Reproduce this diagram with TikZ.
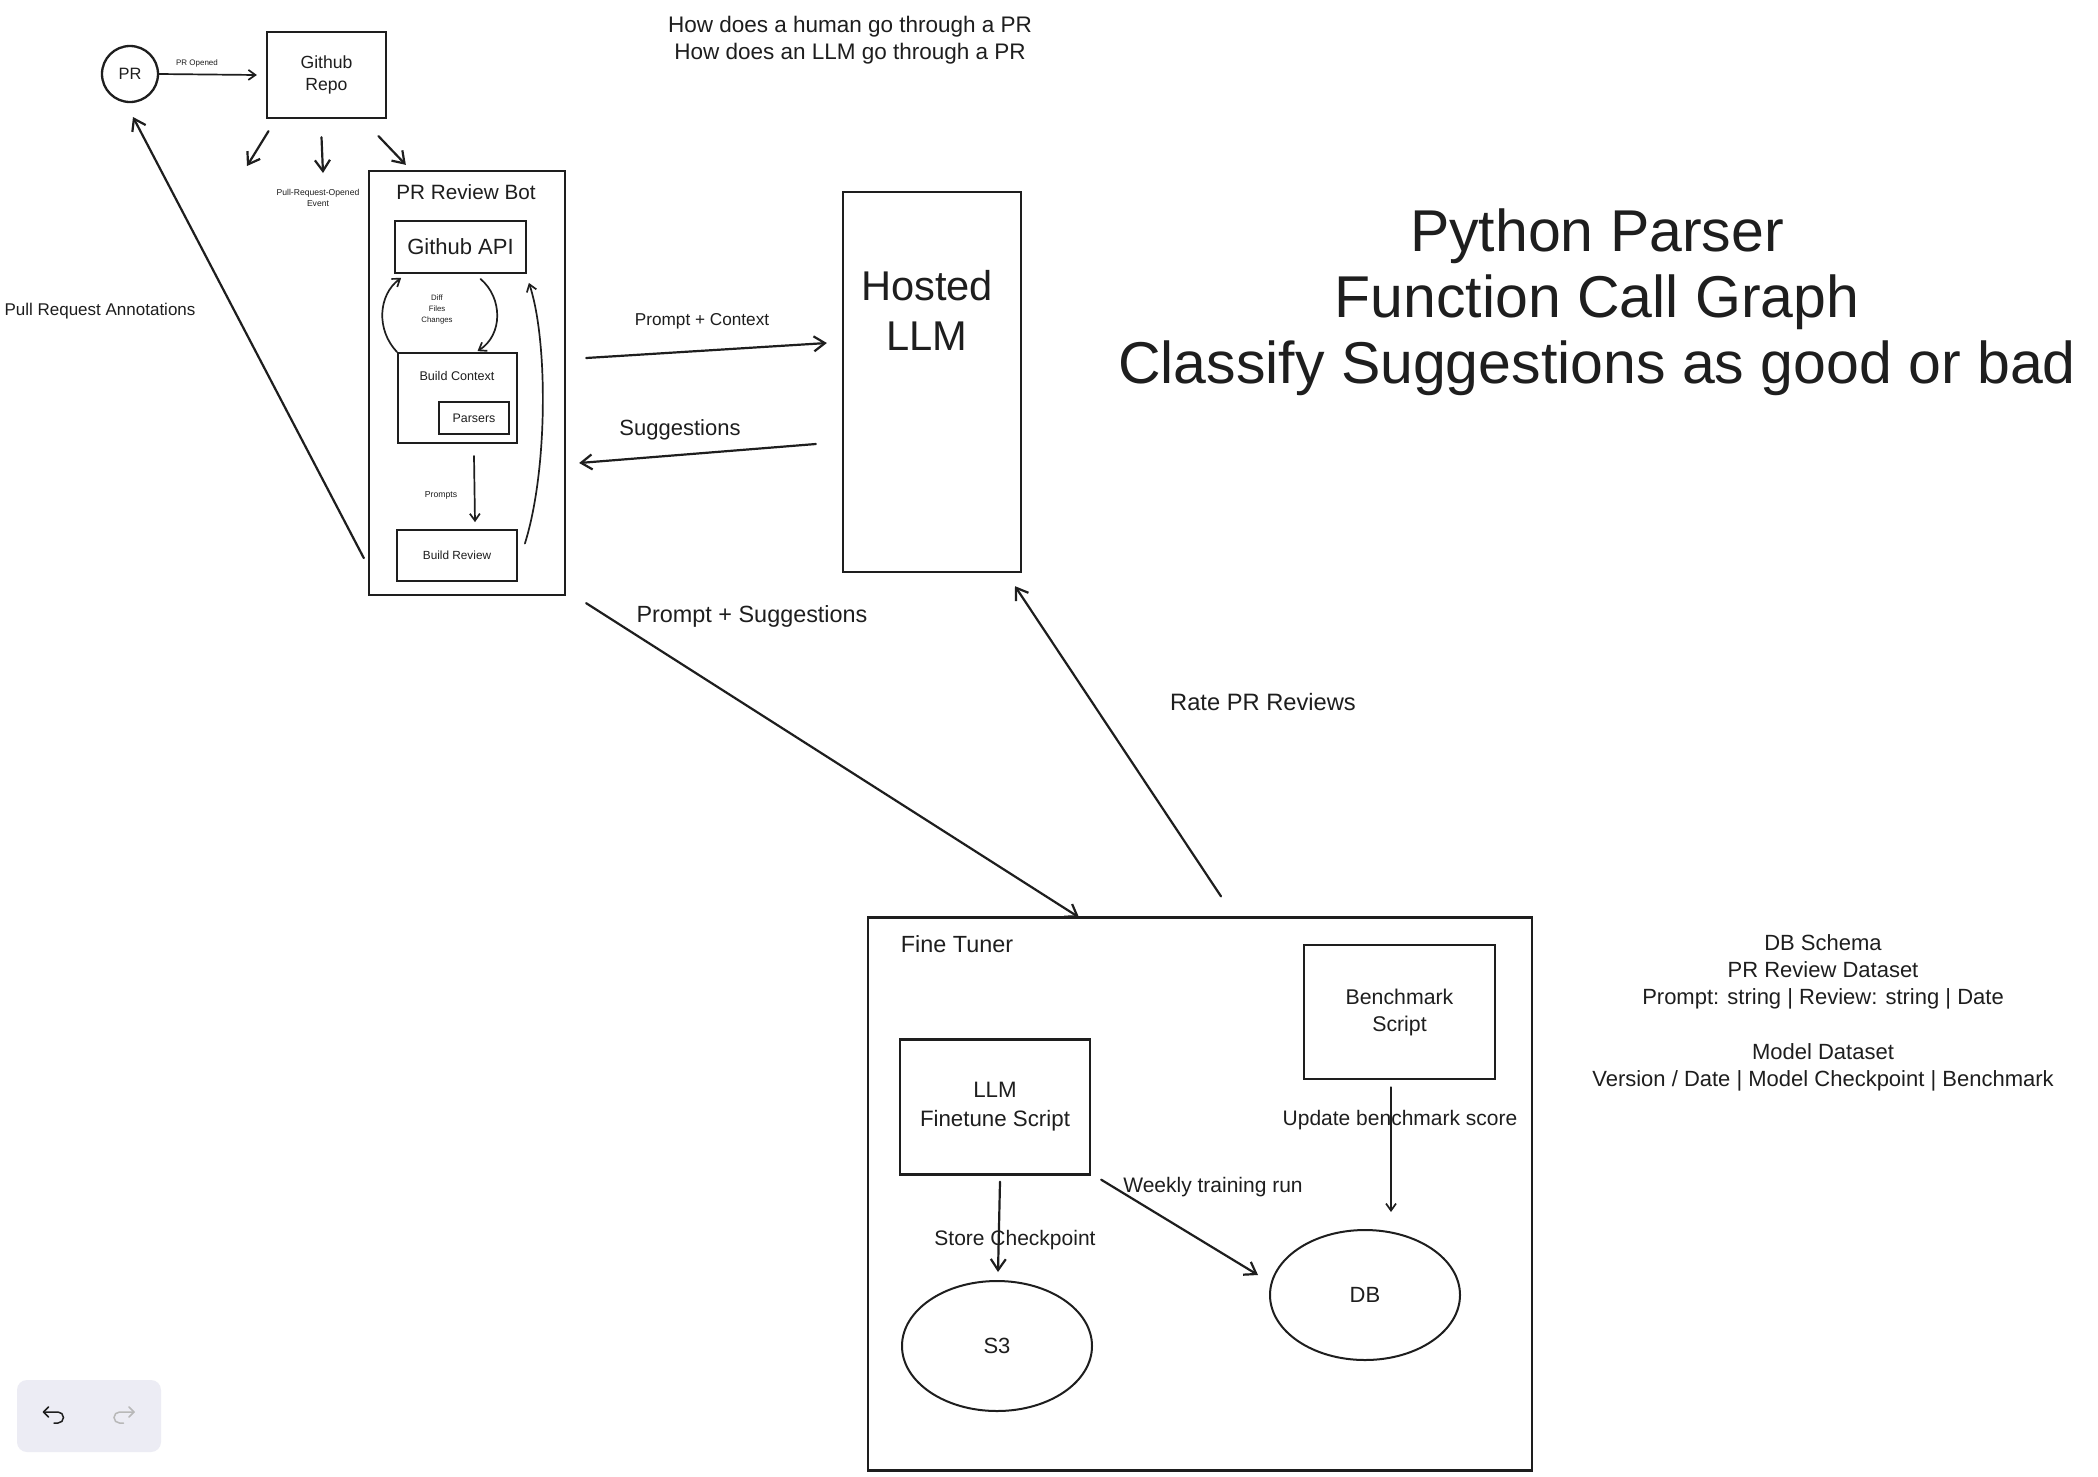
\documentclass[tikz,border=0pt]{standalone}
\usepackage{fontspec}
\setmainfont{Liberation Sans}
\usetikzlibrary{arrows.meta,shapes.geometric}
\definecolor{ink}{HTML}{1E1E1E}
\definecolor{panel}{HTML}{ECECF4}
\definecolor{ghost}{HTML}{B8B8B8}
\newcommand\fsz[2]{\fontsize{#1}{#2}\selectfont}
\begin{document}
\begin{tikzpicture}[x=1pt,y=-1pt,
  bx/.style={draw=ink, line width=2.3pt, rectangle, text=ink, inner sep=0pt},
  ibx/.style={draw=ink, line width=1.8pt, rectangle, text=ink, inner sep=0pt},
  lbl/.style={text=ink, inner sep=0pt, anchor=base},
  arr/.style={draw=ink, line width=2.2pt, line cap=round, -{Straight Barb[length=11pt,width=15pt]}},
  sarr/.style={draw=ink, line width=1.7pt, line cap=round, -{Straight Barb[length=7pt,width=10pt]}}]
\useasboundingbox (0,0) rectangle (2098,1476);
\fill[white] (0,0) rectangle (2098,1476);

% ---------- top left ----------
\node[circle, draw=ink, line width=2.3pt, minimum size=56, inner sep=0pt, text=ink, font=\fsz{16.4}{20}] (pr) at (130,74) {PR};
\node[bx, minimum width=119, minimum height=86, align=center, font=\fsz{17.6}{22}] (repo) at (326.5,75) {Github\\Repo};
\draw[sarr] (pr.east) -- ([xshift=-9pt]repo.west);
\node[lbl, font=\fsz{8}{10}] (lopen) at (197,65) {PR Opened};

\coordinate (evL) at (247,166);
\coordinate (evM) at (323,173);
\draw[arr] ([shift={(-58,12)}]repo.south) -- (evL);
\draw[arr] ([shift={(-5,18)}]repo.south) -- (evM);

% ---------- PR review bot ----------
\node[bx, minimum width=196, minimum height=424] (bot) at (467,383) {};
\draw[arr] ([shift={(52,17)}]repo.south) -- ([shift={(38,-5)}]bot.north west);
\node[text=ink, inner sep=0pt, align=center, font=\fsz{8.6}{10.7}] (levent) at (318,198) {Pull-Request-Opened\\Event};
\node[lbl, font=\fsz{20.7}{24}] (bottitle) at (466,199.4) {PR Review Bot};
\node[ibx, minimum width=131, minimum height=52, font=\fsz{22}{26}] (api) at (460.5,247) {Github API};
\node[ibx, minimum width=119, minimum height=90] (ctx) at (457.5,398) {};
\node[lbl, font=\fsz{12.6}{15}] (ctxt) at (457,380.5) {Build Context};
\node[ibx, minimum width=70, minimum height=32, font=\fsz{12.4}{15}] (parsers) at (474,418) {Parsers};
\node[ibx, minimum width=120, minimum height=51, font=\fsz{11.8}{14}] (rev) at (457,555.5) {Build Review};

\draw[sarr] (ctx.north west) .. controls (376,330) and (378,295) .. ([shift={(7,4)}]api.south west);
\draw[sarr] ([shift={(20,5)}]api.south) .. controls (503,298) and (503,335) .. ([shift={(20,-1)}]ctx.north);
\draw[sarr] ([shift={(7,-12)}]rev.east) .. controls (548,470) and (548,340) .. ([shift={(2,9)}]api.south east);
\draw[sarr] ([shift={(16.5,12)}]ctx.south) -- ([shift={(18,-7)}]rev.north);
\node[text=ink, inner sep=0pt, align=center, font=\fsz{7.8}{11}] (ldiff) at (437,309) {Diff\\Files\\Changes};
\node[lbl, font=\fsz{8.7}{10}] (lprompts) at (441,497) {Prompts};

\draw[arr] ([shift={(-4,-38)}]bot.south west) -- ([shift={(3,43)}]pr.center);
\node[lbl, font=\fsz{17}{20}] (lann) at (100,315) {Pull Request Annotations};

% ---------- top texts ----------
\node[lbl, font=\fsz{22.5}{27}] (q1) at (850,32) {How does a human go through a PR};
\node[lbl, font=\fsz{22.5}{27}] (q2) at (850,59) {How does an LLM go through a PR};
\node[lbl, font=\fsz{59}{66}] (h1) at (1597,251) {Python Parser};
\node[lbl, font=\fsz{59}{66}] (h2) at (1597,317) {Function Call Graph};
\node[lbl, font=\fsz{59}{66}] (h3) at (1597,383) {Classify Suggestions as good or bad};

% ---------- hosted LLM ----------
\node[bx, minimum width=178, minimum height=380] (llm) at (932,382) {};
\node[lbl, font=\fsz{41.6}{50}] (llmt1) at (927,300) {Hosted};
\node[lbl, font=\fsz{41.6}{50}] (llmt2) at (927,350) {LLM};

\draw[arr] ([shift={(20,-25)}]bot.east) -- ([shift={(-15,-39)}]llm.west);
\node[lbl, font=\fsz{17.2}{20}] (lpc) at (702,325) {Prompt + Context};
\draw[arr] ([shift={(-26,62)}]llm.west) -- ([shift={(13,80)}]bot.east);
\node[lbl, font=\fsz{22}{26}] (lsug) at (680,435) {Suggestions};

% ---------- fine tuner ----------
\node[bx, minimum width=664, minimum height=553] (ft) at (1200,1194) {};
\node[lbl, font=\fsz{23.4}{28}] (ftt) at (957,952) {Fine Tuner};
\node[bx, minimum width=191, minimum height=134, align=center, font=\fsz{21.3}{27}] (bench) at (1399.5,1012) {Benchmark\\Script};
\node[bx, minimum width=190, minimum height=135, align=center, font=\fsz{22.3}{29}] (fts) at (995,1107) {LLM\\Finetune Script};
\node[ellipse, draw=ink, line width=2pt, minimum width=190, minimum height=130, inner sep=0pt, text=ink, font=\fsz{22}{26}] (s3) at (997,1346) {S3};
\node[ellipse, draw=ink, line width=2pt, minimum width=190, minimum height=130, inner sep=0pt, text=ink, font=\fsz{22}{26}] (db) at (1365,1295) {DB};

\draw[arr] ([shift={(20,7)}]bot.south east) -- ([shift={(-121,1)}]ft.north);
\node[lbl, font=\fsz{23.4}{28}] (lps) at (752,622) {Prompt + Suggestions};
\draw[arr] ([shift={(21,-20)}]ft.north) -- ([shift={(83,13)}]llm.south);
\node[lbl, font=\fsz{23.7}{28}] (lrate) at (1263,710) {Rate PR Reviews};

\draw[arr] ([shift={(5,6)}]fts.south) -- ([shift={(1,-8)}]s3.north);
\node[lbl, font=\fsz{21}{25}] (lstore) at (1015,1245) {Store Checkpoint};
\draw[arr] ([shift={(10,4)}]fts.south east) -- ([shift={(-11,-20)}]db.west);
\node[lbl, font=\fsz{21}{25}] (lweek) at (1213,1192) {Weekly training run};
\draw[sarr] ([shift={(-8.5,7)}]bench.south) -- ([shift={(26,-17)}]db.north);
\node[lbl, font=\fsz{21}{25}] (lupd) at (1400,1125) {Update benchmark score};

% ---------- DB schema notes ----------
\node[lbl, font=\fsz{22}{27}] (s1) at (1823,950) {DB Schema};
\node[lbl, font=\fsz{22}{27}] (s2) at (1823,977) {PR Review Dataset};
\node[lbl, font=\fsz{22}{27}] (s3t) at (1823,1004) {Prompt: string | Review: string | Date};
\node[lbl, font=\fsz{22}{27}] (s4) at (1823,1059) {Model Dataset};
\node[lbl, font=\fsz{22}{27}] (s5) at (1823,1086) {Version / Date | Model Checkpoint | Benchmark};

% ---------- undo / redo panel ----------
\fill[panel, rounded corners=10pt] (17,1380) rectangle (161,1452);
\draw[ink, line width=1.5pt, line cap=round, line join=round] (48.5,1407) -- (43.5,1412) -- (48.5,1417);
\draw[ink, line width=1.5pt, line cap=round] (43.5,1412) -- (58,1412) arc[start angle=-90, end angle=90, radius=5.5] -- (54,1423);
\draw[ghost, line width=1.5pt, line cap=round, line join=round] (129,1407) -- (134,1412) -- (129,1417);
\draw[ghost, line width=1.5pt, line cap=round] (134,1412) -- (119.5,1412) arc[start angle=-90, end angle=-270, radius=5.5] -- (123.5,1423);
\end{tikzpicture}
\end{document}
